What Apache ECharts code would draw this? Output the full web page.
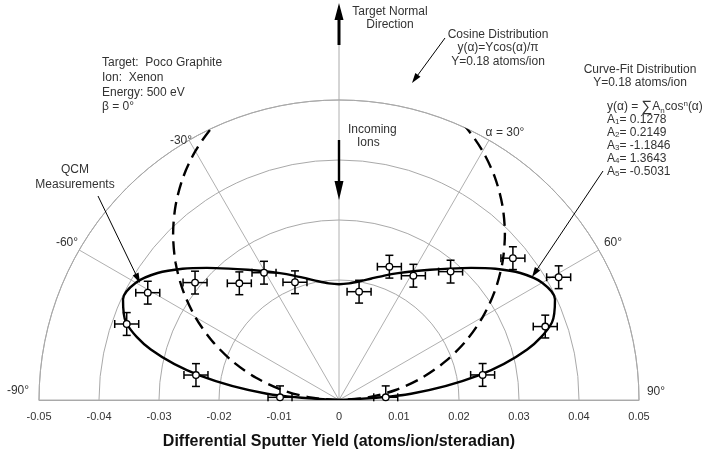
<!DOCTYPE html>
<html><head><meta charset="utf-8">
<script src="https://cdn.jsdelivr.net/npm/echarts@6/dist/echarts.min.js"></script>
<style>html,body{margin:0;padding:0;background:#fff}#c{width:713px;height:456px}</style>
</head><body><div id="c"></div>
<script>
// ---- data ----
const xTicks = [-0.05, -0.04, -0.03, -0.02, -0.01, 0, 0.01, 0.02, 0.03, 0.04, 0.05];
const gridRadii = [0.02, 0.03, 0.04, 0.05];
const angleTicks = [-90, -60, -30, 0, 30, 60, 90];
const angleTickLabels = ['-90°', '-60°', '-30°', '', 'α = 30°', '60°', '90°'];

// Curve-fit distribution (angle in deg, yield)
const fitAngle = [-90,-85,-80,-75,-70,-65,-60,-55,-50,-45,-40,-35,-30,-25,-20,-15,-10,-5,0,5,10,15,20,25,30,35,40,45,50,55,60,65,70,75,80,85,90];
const fitYield = [0,0.01206,0.02363,0.03247,0.03777,0.03972,0.03910,0.03690,0.03403,0.03114,0.02859,0.02649,0.02477,0.02333,0.02207,0.02097,0.02009,0.01951,0.01930,0.01951,0.02009,0.02097,0.02207,0.02333,0.02477,0.02649,0.02859,0.03114,0.03403,0.03690,0.03910,0.03972,0.03777,0.03247,0.02363,0.01206,0];

// Cosine distribution (dashed)
const cosAngle = [-90,-85,-80,-75,-70,-65,-60,-55,-50,-45,-40,-35,-30,-25,-20,-15,-10,-5,0,5,10,15,20,25,30,35,40,45,50,55,60,65,70,75,80,85,90];
const cosYield = [0,0.00482,0.00960,0.01431,0.01891,0.02337,0.02765,0.03172,0.03555,0.03910,0.04236,0.04530,0.04789,0.05012,0.05197,0.05342,0.05446,0.05509,0.05530,0.05509,0.05446,0.05342,0.05197,0.05012,0.04789,0.04530,0.04236,0.03910,0.03555,0.03172,0.02765,0.02337,0.01891,0.01431,0.00960,0.00482,0];

// QCM measurements
const qcmAngle = [-87.4,-80.1,-70.3,-60.7,-50.8,-40.5,-30.5,-20.5,10.5,20.7,30.9,41.0,50.8,60.8,70.4,80.1,86.7];
const qcmYield = [0.00984,0.0242,0.03758,0.03655,0.03096,0.02558,0.02462,0.02095,0.01836,0.02375,0.02414,0.02835,0.0374,0.04194,0.03649,0.0243,0.0078];
const qcmErrX = [0.002,0.002,0.002,0.002,0.002,0.002,0.002,0.002,0.002,0.002,0.002,0.002,0.002,0.002,0.002,0.002,0.002];
const qcmErrY = [0.0019,0.0019,0.0019,0.0019,0.0019,0.0019,0.0019,0.0019,0.0019,0.0019,0.0019,0.0019,0.0019,0.0019,0.0019,0.0019,0.0019];

// ---- chart ----
const FONT = '"Liberation Sans", Arial, Helvetica, sans-serif';
const TXT = '#333';
const chart = echarts.init(document.getElementById('c'), null, {renderer: 'canvas'});

function txt(x, y, text, align, extra) {
  return Object.assign({
    type: 'text', z: 100,
    style: Object.assign({x: x, y: y, text: text, align: align || 'left', verticalAlign: 'middle',
      font: '12px ' + FONT, fill: TXT}, extra || {})
  });
}
function arrow(x1, y1, x2, y2, len, hw, lw) {
  const dx = x2 - x1, dy = y2 - y1, d = Math.hypot(dx, dy), ux = dx / d, uy = dy / d;
  const bx = x2 - ux * len, by = y2 - uy * len;
  return [
    {type: 'line', z: 100, shape: {x1: x1, y1: y1, x2: bx + ux, y2: by + uy}, style: {stroke: '#000', lineWidth: lw}},
    {type: 'polygon', z: 100, shape: {points: [[x2, y2], [bx - uy * hw, by + ux * hw], [bx + uy * hw, by - ux * hw]]}, style: {fill: '#000'}}
  ];
}

const subRich = {
  sub: {fontSize: 8, fontFamily: FONT, fill: TXT, color: TXT, verticalAlign: 'bottom', padding: [0,0,0,0]},
  sup: {fontSize: 8, fontFamily: FONT, color: TXT, verticalAlign: 'top'},
  big: {fontSize: 15, fontFamily: FONT, color: TXT},
  n: {fontSize: 12, fontFamily: FONT, color: TXT}
};

const angleLabelPos = [[18, 391, 'center'], [67, 243, 'center'], [181, 141, 'center'], [339, 90, 'center'], [505, 133, 'center'], [613, 243, 'center'], [656, 392, 'center']];

const graphics = [];
angleTicks.forEach((a, i) => {
  if (angleTickLabels[i]) graphics.push(txt(angleLabelPos[i][0], angleLabelPos[i][1], angleTickLabels[i], angleLabelPos[i][2]));
});
// left info block
['Target:  Poco Graphite', 'Ion:  Xenon', 'Energy: 500 eV', 'β = 0°'].forEach((t, i) => graphics.push(txt(102, 63 + i * 14.7, t, 'left')));
// Target normal direction
graphics.push(txt(390, 12, 'Target Normal', 'center'));
graphics.push(txt(390, 25, 'Direction', 'center'));
graphics.push({type: 'line', z: 90, shape: {x1: 339, y1: 44, x2: 339, y2: 100}, style: {stroke: '#aaa', lineWidth: 1}});
graphics.push(...arrow(339, 45, 339, 3, 17, 4.5, 3));
// Incoming ions
graphics.push(txt(348, 130, 'Incoming', 'left'));
graphics.push(txt(357, 143, 'Ions', 'left'));
graphics.push(...arrow(339, 140, 339, 200, 19, 4.5, 2.4));
// Cosine distribution
graphics.push(txt(498, 35, 'Cosine Distribution', 'center'));
graphics.push(txt(498, 48, 'y(α)=Ycos(α)/π', 'center'));
graphics.push(txt(498, 62, 'Y=0.18 atoms/ion', 'center'));
graphics.push(...arrow(445, 38, 412, 83, 10, 3.2, 1));
// Curve fit
graphics.push(txt(640, 70, 'Curve-Fit Distribution', 'center'));
graphics.push(txt(640, 83, 'Y=0.18 atoms/ion', 'center'));
graphics.push({type: 'text', z: 100, style: {x: 607, y: 107, verticalAlign: 'middle', align: 'left',
  text: '{n|y(α) = }{big|∑}{n|A}{sub|n}{n|cos}{sup|n}{n|(α)}', rich: subRich, font: '12px ' + FONT, fill: TXT}});
['0.1278', '0.2149', '-1.1846', '1.3643', '-0.5031'].forEach((v, i) => {
  graphics.push({type: 'text', z: 100, style: {x: 607, y: 120 + i * 13, verticalAlign: 'middle', align: 'left',
    text: '{n|A}{sub|' + (i + 1) + '}{n|= ' + v + '}', rich: subRich, font: '12px ' + FONT, fill: TXT}});
});
graphics.push(...arrow(603, 171, 532, 277, 10, 3.2, 1));
// QCM
graphics.push(txt(75, 170, 'QCM', 'center'));
graphics.push(txt(75, 185, 'Measurements', 'center'));
graphics.push(...arrow(98, 196, 140, 283, 10, 3.2, 1));

const splitColors = [0, 0.01, 0.02, 0.03, 0.04, 0.05].map(r => gridRadii.some(g => Math.abs(g - r) < 1e-9) ? '#a9a9a9' : 'rgba(0,0,0,0)');

const option = {
  animation: false,
  backgroundColor: '#fff',
  textStyle: {fontFamily: FONT},
  grid: {left: 39, right: 74, top: 100, bottom: 56, containLabel: false},
  xAxis: {
    type: 'value', min: xTicks[0], max: xTicks[xTicks.length - 1], interval: 0.01,
    axisLine: {show: true, onZero: false, lineStyle: {color: '#a9a9a9', width: 1}},
    axisTick: {show: false}, splitLine: {show: false},
    axisLabel: {color: TXT, fontSize: 11, fontFamily: FONT, margin: 11,
      formatter: v => { const r = Math.round(v * 100) / 100; return r === 0 ? '0' : String(r); }},
    name: 'Differential Sputter Yield (atoms/ion/steradian)', nameLocation: 'middle', nameGap: 34,
    nameTextStyle: {color: '#111', fontSize: 16, fontWeight: 'bold', fontFamily: FONT}
  },
  yAxis: {type: 'value', min: 0, max: 0.05, show: false},
  polar: {center: [339, 400], radius: 300},
  angleAxis: {
    type: 'value', min: -90, max: 90, interval: 30, startAngle: 180, endAngle: 0, clockwise: true,
    axisLine: {show: true, lineStyle: {color: '#a9a9a9', width: 1}},
    axisTick: {show: false}, axisLabel: {show: false},
    splitLine: {show: true, lineStyle: {color: '#b0b0b0', width: 1}}
  },
  radiusAxis: {
    type: 'value', min: 0, max: 0.05, interval: 0.01,
    axisLine: {show: false}, axisTick: {show: false}, axisLabel: {show: false},
    splitLine: {show: true, lineStyle: {color: splitColors, width: 1}}
  },
  series: [
    {
      type: 'line', coordinateSystem: 'polar', name: 'Cosine', smooth: 0.3, showSymbol: false, z: 3,
      data: cosAngle.map((a, i) => [cosYield[i], a]),
      lineStyle: {color: '#000', width: 2.4, type: [13, 7]}
    },
    {
      type: 'line', coordinateSystem: 'polar', name: 'Fit', smooth: 0.3, showSymbol: false, z: 4,
      data: fitAngle.map((a, i) => [fitYield[i], a]),
      lineStyle: {color: '#000', width: 2.4}
    },
    {
      type: 'custom', coordinateSystem: 'cartesian2d', name: 'QCM', z: 10,
      encode: {x: 0, y: 1},
      data: qcmAngle.map((a, i) => {
        const t = a * Math.PI / 180, r = qcmYield[i];
        return [r * Math.sin(t), r * Math.cos(t), qcmErrX[i], qcmErrY[i]];
      }),
      renderItem: function (params, api) {
        const x = api.value(0), y = api.value(1), ex = api.value(2), ey = api.value(3);
        const c = api.coord([x, y]);
        const L = api.coord([x - ex, y]), R = api.coord([x + ex, y]);
        const T = api.coord([x, y + ey]);
        const clipB = y - ey < 0;
        const B = api.coord([x, Math.max(0, y - ey)]);
        const cap = 4, st = {stroke: '#000', lineWidth: 1.5};
        const ch = [
          {type: 'line', shape: {x1: L[0], y1: L[1], x2: R[0], y2: R[1]}, style: st},
          {type: 'line', shape: {x1: T[0], y1: T[1], x2: B[0], y2: B[1]}, style: st},
          {type: 'line', shape: {x1: L[0], y1: L[1] - cap, x2: L[0], y2: L[1] + cap}, style: st},
          {type: 'line', shape: {x1: R[0], y1: R[1] - cap, x2: R[0], y2: R[1] + cap}, style: st},
          {type: 'line', shape: {x1: T[0] - cap, y1: T[1], x2: T[0] + cap, y2: T[1]}, style: st}
        ];
        if (!clipB) ch.push({type: 'line', shape: {x1: B[0] - cap, y1: B[1], x2: B[0] + cap, y2: B[1]}, style: st});
        ch.push({type: 'circle', shape: {cx: c[0], cy: c[1], r: 3.3}, style: {fill: '#fff', stroke: '#000', lineWidth: 1.3}});
        return {type: 'group', children: ch};
      }
    }
  ],
  graphic: graphics
};
chart.setOption(option);
</script>
</body></html>
